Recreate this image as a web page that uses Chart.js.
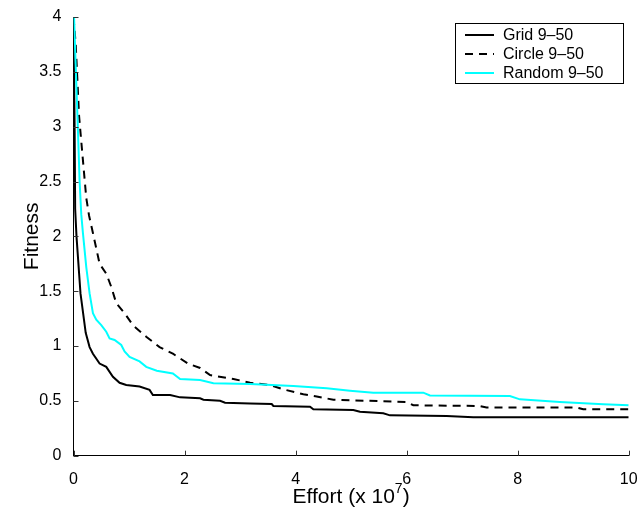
<!DOCTYPE html>
<html>
<head>
<meta charset="utf-8">
<script src="https://cdn.jsdelivr.net/npm/chart.js@4/dist/chart.umd.min.js"></script>
<style>
  html, body { margin: 0; padding: 0; background: #ffffff; }
  #wrap { width: 639px; height: 510px; position: relative; }
</style>
</head>
<body>
<div id="wrap"><canvas id="c" width="639" height="510"></canvas></div>
<script>
// Effort values are in units of 10^7 evaluations
const seriesNames = ['Grid 9\u201350', 'Circle 9\u201350', 'Random 9\u201350'];

const gridEffort = [0, 0.02, 0.03, 0.054, 0.126, 0.22, 0.29, 0.35, 0.47, 0.59, 0.71, 0.83, 0.95, 1.19, 1.37, 1.43, 1.74, 1.92, 2.28, 2.34, 2.64, 2.73, 3.18, 3.57, 3.6, 4.26, 4.32, 5.04, 5.16, 5.58, 5.70, 6.72, 7.2, 10];
const gridFitness = [4, 3.0, 2.25, 2.0, 1.48, 1.12, 0.99, 0.93, 0.84, 0.81, 0.72, 0.665, 0.645, 0.63, 0.60, 0.553, 0.553, 0.532, 0.523, 0.51, 0.50, 0.483, 0.475, 0.471, 0.453, 0.447, 0.423, 0.417, 0.40, 0.386, 0.368, 0.362, 0.35, 0.35];

const circleEffort = [0, 0.04, 0.10, 0.16, 0.23, 0.28, 0.35, 0.47, 0.59, 0.68, 0.77, 0.92, 1.07, 1.31, 1.55, 1.79, 2.06, 2.28, 2.46, 2.88, 3.18, 3.54, 3.78, 4.14, 4.38, 4.68, 6.0, 6.12, 7.32, 7.44, 9.06, 9.18, 10];
const circleFitness = [4, 3.75, 3.1, 2.75, 2.35, 2.19, 2.03, 1.75, 1.66, 1.54, 1.39, 1.30, 1.19, 1.085, 0.99, 0.93, 0.84, 0.80, 0.735, 0.70, 0.665, 0.645, 0.605, 0.56, 0.54, 0.51, 0.49, 0.46, 0.453, 0.44, 0.44, 0.423, 0.423];

const randomEffort = [0.01, 0.05, 0.077, 0.11, 0.14, 0.17, 0.23, 0.29, 0.35, 0.41, 0.50, 0.59, 0.65, 0.74, 0.86, 0.92, 1.01, 1.19, 1.31, 1.50, 1.79, 1.92, 2.28, 2.52, 3.18, 3.96, 4.56, 4.98, 5.40, 6.3, 6.42, 7.86, 8.04, 8.76, 9.54, 10];
const randomFitness = [4, 3.4, 3.01, 2.5, 2.2, 2.03, 1.72, 1.48, 1.30, 1.24, 1.19, 1.13, 1.07, 1.055, 1.01, 0.95, 0.90, 0.86, 0.81, 0.775, 0.75, 0.70, 0.69, 0.66, 0.654, 0.635, 0.614, 0.593, 0.575, 0.575, 0.55, 0.544, 0.514, 0.49, 0.47, 0.46];

const xTickValues = [0, 2, 4, 6, 8, 10];
const yTickValues = [0, 0.5, 1, 1.5, 2, 2.5, 3, 3.5, 4];
const xTitleParts = ['Effort (x 10', '7', ')'];

const toPoints = (xs, ys) => xs.map((x, i) => ({ x: x, y: ys[i] }));

const FONT = 'Liberation Sans, Arial, Helvetica, sans-serif';

// MATLAB-style inward tick marks on the left and bottom axes
const inwardTicks = {
  id: 'inwardTicks',
  afterDatasetsDraw(chart) {
    const { ctx, chartArea: a, scales: { x, y } } = chart;
    ctx.save();
    ctx.strokeStyle = '#333333';
    ctx.lineWidth = 1;
    ctx.beginPath();
    xTickValues.forEach(v => {
      const px = Math.round(x.getPixelForValue(v)) + 0.5;
      ctx.moveTo(px, a.bottom);
      ctx.lineTo(px, a.bottom - 5);
    });
    yTickValues.forEach(v => {
      const py = Math.round(y.getPixelForValue(v)) + 0.5;
      ctx.moveTo(a.left, py);
      ctx.lineTo(a.left + 5, py);
    });
    ctx.stroke();
    ctx.restore();
  }
};

// x-axis title with a raised exponent, centred under the plot
const xTitle = {
  id: 'xTitle',
  afterDraw(chart) {
    const { ctx, chartArea: a } = chart;
    ctx.save();
    ctx.fillStyle = '#000000';
    ctx.textBaseline = 'alphabetic';
    ctx.textAlign = 'left';
    const big = '21px ' + FONT, small = '14px ' + FONT;
    ctx.font = big;
    const w0 = ctx.measureText(xTitleParts[0]).width;
    const w2 = ctx.measureText(xTitleParts[2]).width;
    ctx.font = small;
    const w1 = ctx.measureText(xTitleParts[1]).width;
    const total = w0 + w1 + w2;
    let cx = (a.left + a.right) / 2 - total / 2;
    const base = 503;
    ctx.font = big;
    ctx.fillText(xTitleParts[0], cx, base);
    cx += w0;
    ctx.font = small;
    ctx.fillText(xTitleParts[1], cx, base - 10);
    cx += w1;
    ctx.font = big;
    ctx.fillText(xTitleParts[2], cx, base);
    ctx.restore();
  }
};

// Boxed legend in the upper right corner, built from the datasets
const boxLegend = {
  id: 'boxLegend',
  afterDraw(chart) {
    const { ctx } = chart;
    const left = 455.5, top = 23.5, w = 168, h = 60;
    ctx.save();
    ctx.fillStyle = '#ffffff';
    ctx.fillRect(left, top, w, h);
    ctx.strokeStyle = '#000000';
    ctx.lineWidth = 1;
    ctx.strokeRect(left, top, w, h);
    const rows = [35, 54, 73];
    ctx.font = '16px ' + FONT;
    ctx.textBaseline = 'middle';
    ctx.textAlign = 'left';
    chart.data.datasets.forEach((ds, i) => {
      const ry = rows[i];
      ctx.beginPath();
      ctx.strokeStyle = ds.borderColor;
      ctx.lineWidth = ds.borderWidth;
      ctx.setLineDash(ds.borderDash || []);
      ctx.moveTo(465, ry);
      ctx.lineTo(494, ry);
      ctx.stroke();
      ctx.setLineDash([]);
      ctx.fillStyle = '#000000';
      ctx.fillText(ds.label, 503, ry + 1);
    });
    ctx.restore();
  }
};

new Chart(document.getElementById('c'), {
  type: 'line',
  data: {
    datasets: [
      { label: seriesNames[0], data: toPoints(gridEffort, gridFitness), borderColor: '#000000', borderWidth: 2, pointRadius: 0, tension: 0, order: 3 },
      { label: seriesNames[1], data: toPoints(circleEffort, circleFitness), borderColor: '#000000', borderWidth: 2, borderDash: [8, 6], pointRadius: 0, tension: 0, order: 2 },
      { label: seriesNames[2], data: toPoints(randomEffort, randomFitness), borderColor: '#00ffff', borderWidth: 2, pointRadius: 0, tension: 0, order: 1 }
    ]
  },
  options: {
    responsive: false,
    animation: false,
    layout: { padding: { left: 0, right: 10.3, top: 17, bottom: 0 } },
    plugins: { legend: { display: false }, tooltip: { enabled: false } },
    scales: {
      x: {
        type: 'linear',
        min: 0, max: 10,
        afterBuildTicks: s => { s.ticks = xTickValues.map(v => ({ value: v })); },
        afterFit: s => { s.height = 54.3; s.paddingLeft = 0; s.paddingRight = 0; },
        grid: { display: false },
        border: { display: true, color: '#000000', width: 1 },
        ticks: { color: '#000000', font: { family: FONT, size: 16 }, padding: 6, maxRotation: 0, callback: v => String(v) }
      },
      y: {
        type: 'linear',
        min: 0, max: 4,
        afterBuildTicks: s => { s.ticks = yTickValues.map(v => ({ value: v })); },
        afterFit: s => { s.width = 73.5; s.paddingTop = 0; s.paddingBottom = 0; },
        grid: { display: false },
        border: { display: true, color: '#000000', width: 1 },
        ticks: { color: '#000000', font: { family: FONT, size: 16 }, padding: 4, callback: v => String(v) },
        title: { display: true, text: 'Fitness', color: '#000000', font: { family: FONT, size: 21 }, padding: { top: 20, bottom: 0 } }
      }
    }
  },
  plugins: [inwardTicks, xTitle, boxLegend]
});
</script>
</body>
</html>
